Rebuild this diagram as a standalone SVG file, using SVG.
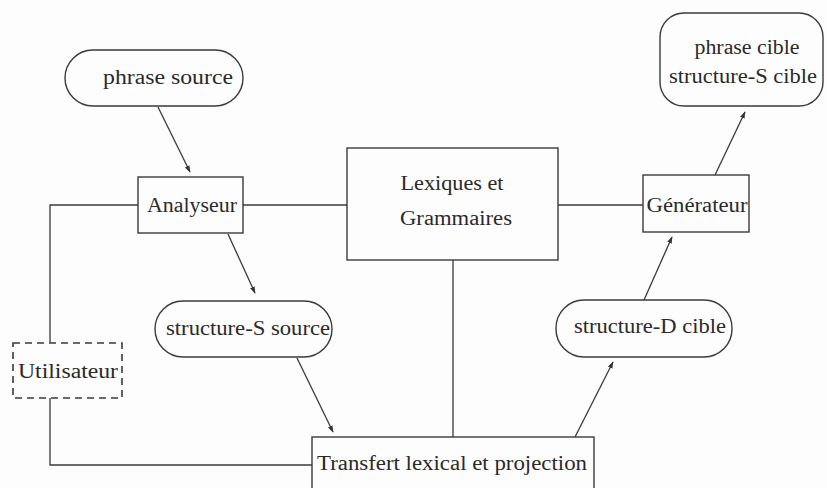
<svg xmlns="http://www.w3.org/2000/svg" width="827" height="488" viewBox="0 0 827 488">
<defs>
<marker id="ah" viewBox="0 0 10 10" refX="9" refY="5" markerWidth="7" markerHeight="7" orient="auto" markerUnits="userSpaceOnUse">
<path d="M0,1.5 L10,5 L0,8.5 z" fill="#333"/>
</marker>
<style>
.n{fill:none;stroke:#3a3a3a;stroke-width:1.4}
.d{fill:none;stroke:#3a3a3a;stroke-width:1.6;stroke-dasharray:7,5}
.c{fill:none;stroke:#3a3a3a;stroke-width:1.3}
.a{fill:none;stroke:#3a3a3a;stroke-width:1.3;marker-end:url(#ah)}
text{font-family:"Liberation Serif","Times New Roman",serif;font-size:20px;fill:#2a2a2a;text-anchor:middle}
</style>
</defs>
<rect width="827" height="488" fill="#fdfdfd"/>
<g id="connectors">
<line class="a" x1="158" y1="107" x2="190" y2="172"/>
<line class="a" x1="228" y1="234" x2="255" y2="293"/>
<line class="a" x1="297" y1="358" x2="333" y2="432"/>
<line class="a" x1="575" y1="437" x2="613" y2="362"/>
<line class="a" x1="644" y1="300" x2="672" y2="237"/>
<line class="a" x1="715" y1="175" x2="745" y2="112"/>
<polyline class="c" points="138,205 50,205 50,343"/>
<polyline class="c" points="50,398 50,465 312,465"/>
<line class="c" x1="243" y1="205" x2="347" y2="205"/>
<line class="c" x1="558" y1="205" x2="643" y2="205"/>
<line class="c" x1="453" y1="260" x2="453" y2="437"/>
</g>
<g id="phrase-source"><rect class="n" x="65" y="50" width="178" height="56" rx="28"/><text x="168" y="84" textLength="130" lengthAdjust="spacingAndGlyphs">phrase source</text></g>
<g id="analyseur"><rect class="n" x="138" y="177" width="105" height="56"/><text x="192" y="212" textLength="90" lengthAdjust="spacingAndGlyphs">Analyseur</text></g>
<g id="lexiques"><rect class="n" x="347" y="148" width="211" height="112"/><text x="452" y="190" textLength="103" lengthAdjust="spacingAndGlyphs">Lexiques et</text><text x="456" y="225" textLength="112" lengthAdjust="spacingAndGlyphs">Grammaires</text></g>
<g id="generateur"><rect class="n" x="643" y="175" width="106" height="57"/><text x="697" y="212" textLength="101" lengthAdjust="spacingAndGlyphs">Générateur</text></g>
<g id="phrase-cible"><rect class="n" x="660" y="13" width="163" height="93" rx="24"/><text x="747" y="54" textLength="105" lengthAdjust="spacingAndGlyphs">phrase cible</text><text x="743" y="83" textLength="148" lengthAdjust="spacingAndGlyphs">structure-S cible</text></g>
<g id="structure-s-source"><rect class="n" x="155" y="301" width="177" height="56" rx="28"/><text x="248" y="335" textLength="164" lengthAdjust="spacingAndGlyphs">structure-S source</text></g>
<g id="utilisateur"><rect class="d" x="13" y="343" width="109" height="55"/><text x="68" y="378" textLength="100" lengthAdjust="spacingAndGlyphs">Utilisateur</text></g>
<g id="structure-d-cible"><rect class="n" x="556" y="300" width="176" height="57" rx="28"/><text x="650" y="333" textLength="152" lengthAdjust="spacingAndGlyphs">structure-D cible</text></g>
<g id="transfert"><rect class="n" x="312" y="437" width="282" height="60"/><text x="452" y="470" textLength="270" lengthAdjust="spacingAndGlyphs">Transfert lexical et projection</text></g>
</svg>
